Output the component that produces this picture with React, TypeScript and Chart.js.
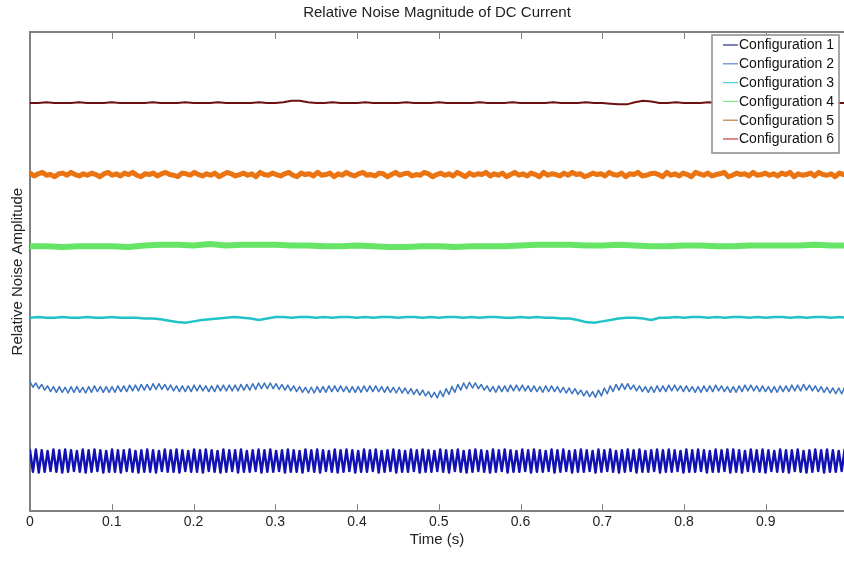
import { useEffect, useRef } from "react";
import { Chart, registerables } from "chart.js";

Chart.register(...registerables);

const chartTitle = "Relative Noise Magnitude of DC Current";
const xAxisTitle = "Time (s)";
const yAxisTitle = "Relative Noise Amplitude";
const seriesNames = [
  "Configuration 1",
  "Configuration 2",
  "Configuration 3",
  "Configuration 4",
  "Configuration 5",
  "Configuration 6",
];
const seriesColors = ["#1212b4", "#3b73c0", "#22c3c8", "#66e466", "#ea7312", "#6e1010"];
const legendColors = ["#2a2a8a", "#5a84cc", "#4fd0d4", "#7fe87f", "#c07a3a", "#c04040"];
const seriesWidths = [2.5, 1.5, 2.5, 6, 5, 2];
const xTickValues = [0, 0.1, 0.2, 0.3, 0.4, 0.5, 0.6, 0.7, 0.8, 0.9];

// Configuration 1: fast oscillation (peak, trough pairs)
const config1 = [
  115, 85, 116, 84, 115, 85, 114, 86, 116, 85, 115, 84, 116, 85, 115, 86, 114, 85, 116, 84,
  115, 85, 116, 86, 115, 84, 114, 85, 116, 85, 115, 84, 115, 86, 116, 85, 114, 84, 115, 85,
  116, 85, 115, 84, 114, 86, 116, 85, 115, 85, 116, 84, 115, 86, 114, 85, 116, 85, 115, 84,
  116, 86, 115, 85, 114, 84, 116, 85, 115, 86, 115, 84, 116, 85, 114, 85, 115, 86, 116, 84,
  115, 85, 116, 85, 114, 86, 115, 84, 116, 85, 115, 85, 114, 84, 116, 86, 115, 85, 116, 84,
  115, 86, 114, 85, 116, 84, 115, 85, 116, 86, 115, 84, 114, 85, 116, 85, 115, 86, 116, 84,
  114, 85, 115, 86, 116, 84, 115, 85, 114, 85, 116, 86, 115, 84, 116, 85, 115, 85, 114, 86,
  116, 85, 115, 84, 115, 86, 116, 85, 114, 84, 115, 85, 116, 86, 115, 85, 114, 84, 116, 85,
  115, 86, 116, 84, 115, 85, 114, 85, 116, 86, 115, 84, 116, 85, 115, 85, 114, 86, 116, 84,
  115, 85, 116, 86, 114, 84, 115, 85, 116, 85, 115, 86, 114, 84, 116, 85, 115, 86, 116, 85,
  114, 84, 115, 85, 116, 86, 115, 84, 116, 85, 114, 85, 115, 86, 116, 84, 115, 85, 116, 85,
  115, 86, 114, 84, 116, 85, 115, 85, 116, 86, 115, 84, 114, 85, 116, 85, 115, 86, 116, 84,
  116, 85, 115, 84, 114, 86, 116, 85, 115, 85, 116, 84, 115, 86, 114, 85, 116, 85, 115, 84,
  115, 86, 116, 85, 114, 84, 115, 85, 116, 86, 115, 84, 116, 85, 115, 85, 114, 86, 116, 85,
];

// Configuration 2: small ripple with slow wander
const config2 = [
  211, 203, 209, 201, 207, 199, 205, 197, 204, 196, 204, 196, 203, 195, 204, 196, 204, 196, 203, 195,
  204, 196, 205, 197, 204, 196, 204, 196, 204, 196, 205, 197, 205, 197, 206, 198, 206, 198, 207, 199,
  207, 199, 208, 200, 208, 200, 207, 199, 206, 198, 205, 197, 205, 197, 205, 197, 206, 198, 206, 198,
  205, 197, 205, 197, 206, 198, 206, 198, 206, 198, 206, 198, 207, 199, 207, 199, 208, 200, 209, 201,
  209, 201, 209, 201, 208, 200, 207, 199, 206, 198, 205, 197, 204, 196, 203, 195, 203, 195, 204, 196,
  204, 196, 205, 197, 205, 197, 205, 197, 204, 196, 204, 196, 204, 196, 205, 197, 205, 197, 205, 197,
  204, 196, 204, 196, 203, 195, 203, 195, 202, 194, 201, 193, 200, 192, 199, 191, 197, 189, 196, 188,
  198, 190, 201, 193, 204, 196, 207, 199, 209, 201, 210, 202, 209, 201, 207, 199, 205, 197, 204, 196,
  205, 197, 205, 197, 206, 198, 206, 198, 206, 198, 205, 197, 205, 197, 204, 196, 205, 197, 205, 197,
  204, 196, 203, 195, 202, 194, 201, 193, 199, 191, 198, 190, 197, 189, 199, 191, 202, 194, 205, 197,
  207, 199, 208, 200, 208, 200, 206, 198, 205, 197, 204, 196, 204, 196, 205, 197, 205, 197, 206, 198,
  206, 198, 205, 197, 205, 197, 204, 196, 204, 196, 205, 197, 205, 197, 206, 198, 205, 197, 204, 196,
  204, 196, 205, 197, 206, 198, 206, 198, 205, 197, 205, 197, 204, 196, 204, 196, 205, 197, 205, 197,
  206, 198, 206, 198, 207, 199, 206, 198, 205, 197, 204, 196, 203, 195, 202, 194, 202, 194, 203, 195,
];

// Configuration 3: flat with dips
const config3 = [
  300, 301, 300, 300, 301, 300, 300, 301, 300, 300, 301, 300, 300, 300, 299,
  299, 298, 296, 294, 293, 295, 297, 298, 299, 300, 301, 300, 299, 297, 299, 301,
  301, 300, 301, 301, 300, 301, 300, 301, 301, 300, 301, 300, 301, 301, 300, 301, 301, 300,
  301, 300, 301, 301, 300, 301, 300, 301, 301, 300, 300, 301, 300, 301, 300, 300, 299, 299,
  297, 294, 293, 295, 297, 299, 300, 300, 299, 297, 300,
  300, 301, 300, 301, 301, 300, 301, 300, 301, 301, 300, 301, 300, 301, 301, 300, 301, 300,
  301, 301, 300, 301, 300,
];

// Configuration 4: thick, nearly flat
const config4 = [
  400, 400, 399, 400, 400, 400, 399,
  401, 402, 402, 401, 403, 401, 402, 402, 402,
  401, 401, 400, 400, 401, 400, 399, 399, 400, 400, 399, 400, 400, 400,
  401, 402, 402, 402, 401, 401, 402,
  401, 400, 400, 401, 401, 400, 400, 401, 401, 401, 401, 402, 401, 401,
];

// Configuration 5: noisy band
const config5 = [
  502, 498, 501, 503, 499, 500, 497, 501, 502, 499, 503, 500, 498, 501, 499, 502, 500, 497, 501, 503,
  499, 501, 498, 502, 500, 503, 499, 497, 501, 500, 502, 498, 501, 503, 500, 499, 497, 502, 501, 499,
  503, 500, 498, 501, 499, 502, 497, 500, 503, 501, 498, 500, 502, 499, 501, 497, 503, 500, 499, 502,
  500, 498, 501, 503, 499, 497, 502, 500, 501, 498, 503, 499, 500, 502, 497, 501, 499, 503, 500, 498,
  501, 503, 499, 500, 498, 502, 501, 497, 500, 503, 499, 501, 502, 498, 500, 499, 503, 501, 497, 500,
  502, 499, 501, 498, 503, 500, 497, 502, 499, 501, 500, 503, 498, 501, 499, 502, 497, 500, 503, 499,
  501, 498, 502, 500, 497, 503, 499, 501, 500, 498, 502, 499, 503, 500, 501, 497, 499, 502, 500, 501,
  498, 503, 500, 499, 502, 497, 501, 500, 503, 498, 499, 501, 502, 500, 497, 503, 499, 501, 498, 502,
  500, 497, 503, 501, 499, 502, 498, 500, 501, 503, 497, 499, 502, 500, 501, 498, 503, 499, 500, 502,
  499, 501, 498, 502, 500, 503, 497, 501, 499, 500, 502, 498, 503, 500, 499, 501, 497, 502, 500, 501,
];

// Configuration 6: thin line with small bumps
const config6 = [
  600, 600, 601, 600, 600, 600, 601, 600, 600, 600, 601, 600, 600, 600, 600, 601, 600, 600, 600, 601,
  600, 600, 600, 601, 600, 600, 600, 600, 601, 600, 600,
  601, 603, 603, 601, 600,
  600, 601, 600, 600, 600, 601, 600, 600, 600, 600, 601, 600, 600, 600, 601, 600, 600, 600, 600, 601,
  600, 600, 600, 601, 600, 600, 600, 600, 601, 600, 600, 600, 601, 600, 600,
  599, 598, 598, 601, 603, 602, 600,
  600, 601, 600, 600, 600, 601, 600, 600, 600, 600, 601, 600, 600, 600, 601, 600, 600, 600, 600, 601,
  600, 600, 600,
];

const seriesValues = [config1, config2, config3, config4, config5, config6];

const FONT = "'Liberation Sans', Arial, Helvetica, sans-serif";
const AXIS_COLOR = "#808080";

const frameTicksPlugin = {
  id: "frameTicks",
  afterDraw(chart: any) {
    const { ctx, chartArea } = chart;
    const xScale = chart.scales.x;
    ctx.save();
    ctx.strokeStyle = AXIS_COLOR;
    ctx.lineWidth = 2;
    ctx.beginPath();
    ctx.moveTo(chartArea.left - 1, chartArea.top);
    ctx.lineTo(chartArea.right, chartArea.top);
    ctx.stroke();
    ctx.lineWidth = 1;
    ctx.beginPath();
    for (const v of xTickValues) {
      if (v === 0) continue;
      const px = Math.round(xScale.getPixelForValue(v)) + 0.5;
      ctx.moveTo(px, chartArea.bottom);
      ctx.lineTo(px, chartArea.bottom - 7);
      ctx.moveTo(px, chartArea.top);
      ctx.lineTo(px, chartArea.top + 7);
    }
    ctx.stroke();
    ctx.restore();
  },
};

const boxLegendPlugin = {
  id: "boxLegend",
  afterDraw(chart: any) {
    const { ctx, chartArea } = chart;
    const w = 127;
    const h = 118;
    const left = chartArea.right - 5 - w;
    const top = chartArea.top + 3;
    ctx.save();
    ctx.fillStyle = "#ffffff";
    ctx.fillRect(left, top, w, h);
    ctx.strokeStyle = "#8a8a8a";
    ctx.lineWidth = 1.5;
    ctx.strokeRect(left, top, w, h);
    ctx.font = `14px ${FONT}`;
    ctx.textBaseline = "middle";
    ctx.textAlign = "left";
    chart.data.datasets.forEach((ds: any, i: number) => {
      const y = top + 10 + i * 18.8;
      ctx.strokeStyle = legendColors[i];
      ctx.lineWidth = 1.2;
      ctx.beginPath();
      ctx.moveTo(left + 11, y);
      ctx.lineTo(left + 26, y);
      ctx.stroke();
      ctx.fillStyle = "#111111";
      ctx.fillText(ds.label, left + 27, y + 0.5);
    });
    ctx.restore();
  },
};

function timeGrid(n: number) {
  return Array.from({ length: n }, (_, i) => i / (n - 1));
}

export default function App() {
  const canvasRef = useRef<HTMLCanvasElement | null>(null);

  useEffect(() => {
    if (!canvasRef.current) return;
    const datasets = seriesValues.map((vals, i) => {
      const t = timeGrid(vals.length);
      return {
        label: seriesNames[i],
        data: vals.map((v, j) => ({ x: t[j], y: v })),
        borderColor: seriesColors[i],
        backgroundColor: seriesColors[i],
        borderWidth: seriesWidths[i],
        borderJoinStyle: "round",
        borderCapStyle: "round",
        pointRadius: 0,
        tension: 0,
        fill: false,
      };
    });

    const chart = new Chart(canvasRef.current, {
      type: "line",
      data: { datasets },
      options: {
        animation: false,
        responsive: false,
        maintainAspectRatio: false,
        layout: { padding: { left: 4, right: 0, top: 0, bottom: 23 } },
        plugins: {
          legend: { display: false },
          tooltip: { enabled: false },
          title: {
            display: true,
            text: chartTitle,
            fullSize: false,
            color: "#222222",
            font: { family: FONT, size: 15, weight: "normal" },
            padding: { top: 4, bottom: 10 },
          },
        },
        scales: {
          x: {
            type: "linear",
            min: 0,
            max: 0.9957,
            afterBuildTicks: (scale: any) => {
              scale.ticks = xTickValues.map((v) => ({ value: v }));
            },
            ticks: {
              autoSkip: false,
              maxRotation: 0,
              padding: 3,
              color: "#222222",
              font: { family: FONT, size: 14 },
              callback: (v: any) => String(Math.round(Number(v) * 10) / 10),
            },
            grid: { display: false, drawTicks: false },
            border: { display: true, color: AXIS_COLOR, width: 2 },
            title: {
              display: true,
              text: xAxisTitle,
              color: "#222222",
              font: { family: FONT, size: 15 },
              padding: { top: -3, bottom: 0 },
            },
          },
          y: {
            type: "linear",
            min: 30,
            max: 699,
            ticks: { display: false },
            grid: { display: false, drawTicks: false },
            border: { display: true, color: AXIS_COLOR, width: 2 },
            title: {
              display: true,
              text: yAxisTitle,
              color: "#222222",
              font: { family: FONT, size: 15 },
              padding: { top: 5, bottom: 3 },
            },
          },
        },
      },
      plugins: [frameTicksPlugin, boxLegendPlugin],
    } as any);

    return () => chart.destroy();
  }, []);

  return (
    <div style={{ position: "fixed", left: 0, top: 0, width: 844, height: 572, background: "#ffffff" }}>
      <canvas ref={canvasRef} width={844} height={572} style={{ display: "block" }} />
    </div>
  );
}
